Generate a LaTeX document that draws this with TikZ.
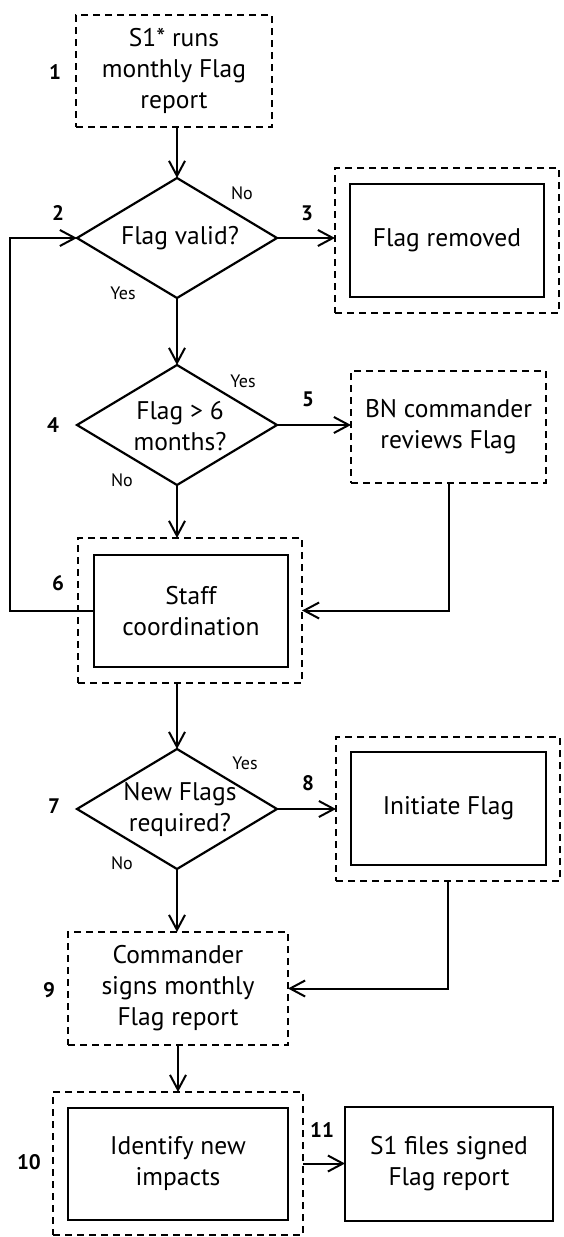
\documentclass[tikz,border=0pt]{standalone}
\usepackage{fontspec}
\setmainfont{PT Sans}
\usetikzlibrary{shapes.geometric,arrows.meta}
\begin{document}
\begin{tikzpicture}[x=1pt,y=-1pt,
  dbox/.style={draw, dash pattern=on 7pt off 5pt, line width=1.8pt, inner sep=0pt, outer sep=0pt},
  sbox/.style={draw, line width=2.6pt, inner sep=0pt, outer sep=0pt},
  dia/.style={draw, diamond, line width=2.2pt, inner sep=0pt, outer sep=0pt, minimum width=200pt, minimum height=120pt},
  txt/.style={font=\fontsize{25.5}{31}\selectfont, align=center, inner sep=0pt},
  yn/.style={font=\fontsize{18}{20}\selectfont, inner sep=0pt},
  num/.style={font=\fontsize{21}{24}\selectfont\bfseries, inner sep=0pt},
  arr/.style={line width=2pt, -{Straight Barb[length=15pt,width=16pt,line width=2pt]}}
]
\useasboundingbox (0,0) rectangle (563,1237);

% nodes
\node[dbox, minimum width=196pt, minimum height=112pt] (b1) at (174,71) {};
\node[txt] (t1) at (b1) {S1* runs\\monthly Flag\\report};

\node[dia] (d1) at (177,238) {};
\node[txt] (td1) at (180,238) {Flag valid?};

\node[dbox, minimum width=224pt, minimum height=145pt] (b3o) at (447,240.5) {};
\node[sbox, minimum width=194pt, minimum height=113pt] (b3i) at (447,240.5) {};
\node[txt] (t3) at (b3i) {Flag removed};

\node[dia] (d2) at (177,425) {};
\node[txt] (td2) at (180,426) {Flag > 6\\months?};

\node[dbox, minimum width=195pt, minimum height=112pt] (b5) at (448.5,427) {};
\node[txt] (t5) at (b5) {BN commander\\reviews Flag};

\node[dbox, minimum width=224pt, minimum height=145pt] (b6o) at (190,610.5) {};
\node[sbox, minimum width=194pt, minimum height=112pt] (b6i) at (191,611) {};
\node[txt] (t6) at (b6i) {Staff\\coordination};

\node[dia] (d3) at (177,809) {};
\node[txt] (td3) at (180,809) {New Flags\\required?};

\node[dbox, minimum width=224pt, minimum height=144pt] (b8o) at (448,809) {};
\node[sbox, minimum width=195pt, minimum height=113pt] (b8i) at (448.5,808.5) {};
\node[txt] (t8) at (b8i) {Initiate Flag};

\node[dbox, minimum width=220pt, minimum height=113pt] (b9) at (178,988.5) {};
\node[txt] (t9) at (b9) {Commander\\signs monthly\\Flag report};

\node[dbox, minimum width=250pt, minimum height=143pt] (b10o) at (178,1163.5) {};
\node[sbox, minimum width=220pt, minimum height=112pt] (b10i) at (178,1164) {};
\node[txt] (t10) at (b10i) {Identify new\\impacts};

\node[sbox, minimum width=208pt, minimum height=114pt] (b11) at (449,1164) {};
\node[txt] (t11) at (b11) {S1 files signed\\Flag report};

% number labels
\node[num] (n1) at (55,72) {1};
\node[num] (n2) at (58,213) {2};
\node[num] (n3) at (307,213) {3};
\node[num] (n4) at (53,425) {4};
\node[num] (n5) at (308,399) {5};
\node[num] (n6) at (58,583) {6};
\node[num] (n7) at (54,806) {7};
\node[num] (n8) at (308,783) {8};
\node[num] (n9) at (49,990) {9};
\node[num] (n10) at (29,1162) {10};
\node[num] (n11) at (322,1130) {11};

% yes / no labels
\node[yn] (y1n) at (242,193) {No};
\node[yn] (y1y) at (123,293) {Yes};
\node[yn] (y2y) at (243,381) {Yes};
\node[yn] (y2n) at (122,480) {No};
\node[yn] (y3y) at (245,763) {Yes};
\node[yn] (y3n) at (122,863) {No};

\coordinate (lp) at (10,0);

% connectors
\draw[arr] (b1.south -| d1.north) -- (d1.north);
\draw[arr] (d1.east) -- (d1.east -| b3o.west);
\draw[arr] (d1.south) -- (d2.north);
\draw[arr] (d2.east) -- (d2.east -| b5.west);
\draw[arr] (d2.south) -- (d2.south |- b6o.north);
\draw[arr] (b6i.west) -- (b6i.west -| lp) |- (d1.west);
\draw[arr] (b5.south) |- (b6o.east);
\draw[arr] (b6o.south -| d3.north) -- (d3.north);
\draw[arr] (d3.east) -- (d3.east -| b8o.west);
\draw[arr] (d3.south) -- (d3.south |- b9.north);
\draw[arr] (b8o.south) |- (b9.east);
\draw[arr] (b9.south) -- (b10o.north);
\draw[arr] (b10o.east) -- (b10o.east -| b11.west);
\end{tikzpicture}
\end{document}
